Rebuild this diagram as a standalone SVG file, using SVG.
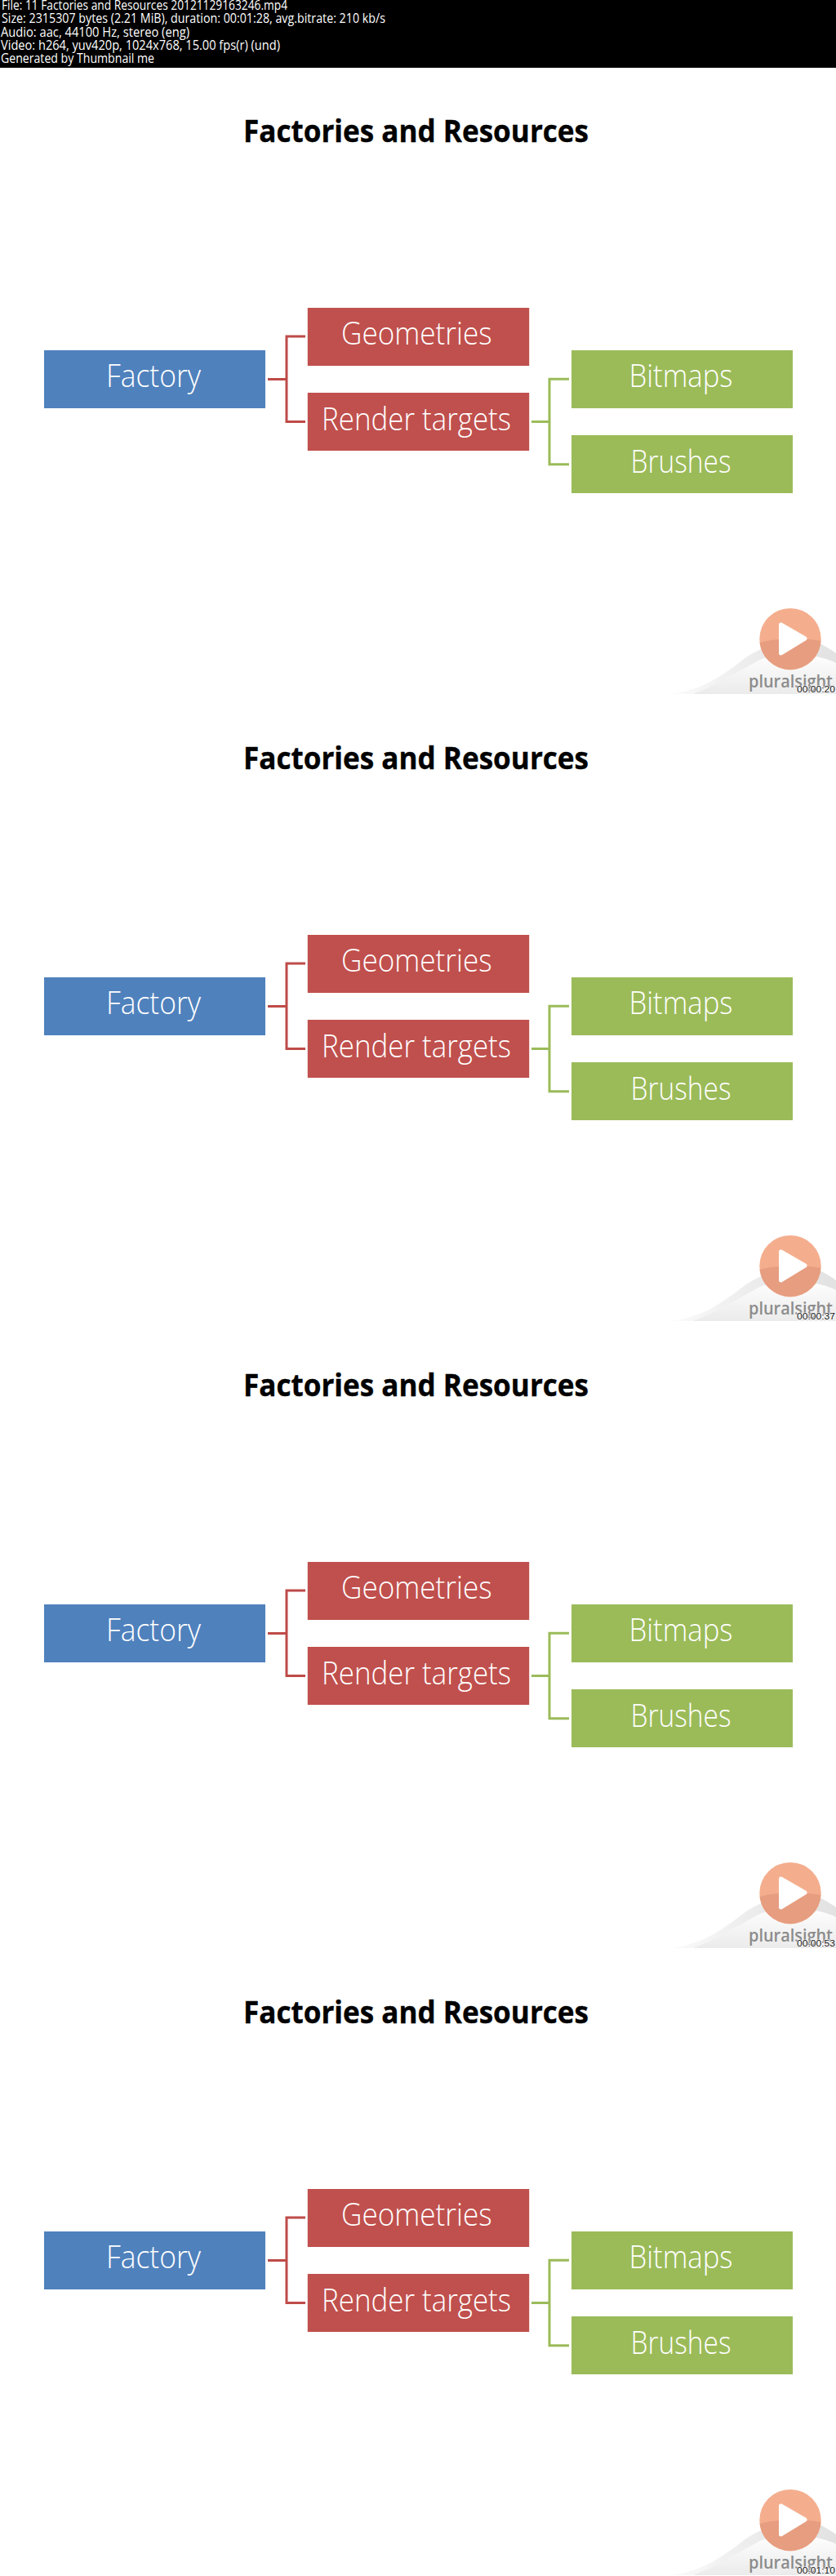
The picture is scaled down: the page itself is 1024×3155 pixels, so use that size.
<svg xmlns="http://www.w3.org/2000/svg" xmlns:xlink="http://www.w3.org/1999/xlink" width="1024" height="3155" viewBox="0 0 1024 3155">
<style>
.hd{font-family:"Open Sans","Liberation Sans",sans-serif;font-size:16px;fill:#fff}
.ti{font-family:"Open Sans","Liberation Sans",sans-serif;font-weight:700;font-size:38px;fill:#000;stroke:#000;stroke-width:.4px}
.lb{font-family:"Open Sans","Liberation Sans",sans-serif;font-weight:300;font-size:38px;fill:#fff}
.bl{fill:#4f81bd}.rd{fill:#c0504d}.gr{fill:#9bbb59}
.cr,.cg{fill:none;stroke-width:3}
.cr{stroke:#be4b48}.cg{stroke:#9bbb59}
.ps{font-family:"Open Sans","Liberation Sans",sans-serif;font-weight:600;font-size:22px;fill:#8c8c8c}
.ts{font-family:"Liberation Sans",sans-serif;font-size:11px;fill:#111;stroke:#fff;stroke-width:1.2px;paint-order:stroke}
</style>
<defs>
<linearGradient id="sw" x1="0" y1="0" x2="1" y2="0"><stop offset="0" stop-color="#fbfbfb"/><stop offset=".5" stop-color="#ececec"/><stop offset="1" stop-color="#e2e2e2"/></linearGradient>
<linearGradient id="sb" x1="0" y1="0" x2="0" y2="1"><stop offset="0" stop-color="#fefefe"/><stop offset="1" stop-color="#ebebeb"/></linearGradient>
<g id="connectors">
<path class="cr" d="M328 381.5H351M374 329H351V433.5H374"/>
<path class="cg" d="M651 433.5H673M697 381.3H673V485.7H697"/>
</g>
<g id="logoback">
<path fill="url(#sw)" d="M821 767C860 762 880 748 914 722C945 702 985 695 1004 705C1012 709 1018 713 1024 717V767Z"/>
<path fill="url(#sb)" d="M851 766C875 758 895 744 931 725C950 717 985 717 1004 722C1012 724 1018 726 1024 729V767H851Z"/>
</g>
<g id="logofront">
<circle cx="968" cy="699.7" r="37.7" fill="#f4ae8e"/>
<path fill="#e69d80" d="M930.5 704C950 698 985 698 1005.5 702A37.7 37.7 0 0 1 930.5 704Z"/>
<path fill="#fff" stroke="#fff" stroke-width="5" stroke-linejoin="round" d="M956.5 682V717L986 699Z"/>
</g>
</defs>
<rect width="1024" height="3155" fill="#fff"/>
<g id="header">
<rect width="1024" height="83" fill="#000"/>
<text class="hd" x="2" y="12" textLength="350" lengthAdjust="spacingAndGlyphs">File: 11 Factories and Resources 20121129163246.mp4</text>
<text class="hd" x="2" y="28" textLength="470" lengthAdjust="spacingAndGlyphs">Size: 2315307 bytes (2.21 MiB), duration: 00:01:28, avg.bitrate: 210 kb/s</text>
<text class="hd" x="1" y="44.5" textLength="231" lengthAdjust="spacingAndGlyphs">Audio: aac, 44100 Hz, stereo (eng)</text>
<text class="hd" x="1" y="61" textLength="342" lengthAdjust="spacingAndGlyphs">Video: h264, yuv420p, 1024x768, 15.00 fps(r) (und)</text>
<text class="hd" x="1" y="77" textLength="188" lengthAdjust="spacingAndGlyphs">Generated by Thumbnail me</text>
</g>

<g id="frame1" transform="translate(0 83)">
<text id="f1-title" class="ti" x="298" y="91" textLength="423" lengthAdjust="spacingAndGlyphs">Factories and Resources</text>
<use id="f1-connectors" href="#connectors" xlink:href="#connectors"/>
<g id="f1-factory"><rect class="bl" x="54" y="346" width="271" height="71"/><text class="lb" x="130" y="391" textLength="116" lengthAdjust="spacingAndGlyphs">Factory</text></g>
<g id="f1-geometries"><rect class="rd" x="376.8" y="294" width="271.4" height="71"/><text class="lb" x="418" y="339" textLength="184.6" lengthAdjust="spacingAndGlyphs">Geometries</text></g>
<g id="f1-render"><rect class="rd" x="376.8" y="398" width="271.4" height="71"/><text class="lb" x="394" y="444" textLength="232" lengthAdjust="spacingAndGlyphs">Render targets</text></g>
<g id="f1-bitmaps"><rect class="gr" x="700" y="346" width="271" height="71"/><text class="lb" x="770.5" y="391" textLength="127" lengthAdjust="spacingAndGlyphs">Bitmaps</text></g>
<g id="f1-brushes"><rect class="gr" x="700" y="450" width="271" height="71"/><text class="lb" x="772.5" y="496" textLength="123" lengthAdjust="spacingAndGlyphs">Brushes</text></g>
<g id="f1-logo"><use href="#logoback" xlink:href="#logoback"/><text class="ps" x="917" y="758.7" textLength="103" lengthAdjust="spacingAndGlyphs">pluralsight</text><use href="#logofront" xlink:href="#logofront"/><text class="ts" x="976" y="765" textLength="47" lengthAdjust="spacingAndGlyphs">00:00:20</text></g>
</g>

<g id="frame2" transform="translate(0 851)">
<text id="f2-title" class="ti" x="298" y="91" textLength="423" lengthAdjust="spacingAndGlyphs">Factories and Resources</text>
<use id="f2-connectors" href="#connectors" xlink:href="#connectors"/>
<g id="f2-factory"><rect class="bl" x="54" y="346" width="271" height="71"/><text class="lb" x="130" y="391" textLength="116" lengthAdjust="spacingAndGlyphs">Factory</text></g>
<g id="f2-geometries"><rect class="rd" x="376.8" y="294" width="271.4" height="71"/><text class="lb" x="418" y="339" textLength="184.6" lengthAdjust="spacingAndGlyphs">Geometries</text></g>
<g id="f2-render"><rect class="rd" x="376.8" y="398" width="271.4" height="71"/><text class="lb" x="394" y="444" textLength="232" lengthAdjust="spacingAndGlyphs">Render targets</text></g>
<g id="f2-bitmaps"><rect class="gr" x="700" y="346" width="271" height="71"/><text class="lb" x="770.5" y="391" textLength="127" lengthAdjust="spacingAndGlyphs">Bitmaps</text></g>
<g id="f2-brushes"><rect class="gr" x="700" y="450" width="271" height="71"/><text class="lb" x="772.5" y="496" textLength="123" lengthAdjust="spacingAndGlyphs">Brushes</text></g>
<g id="f2-logo"><use href="#logoback" xlink:href="#logoback"/><text class="ps" x="917" y="758.7" textLength="103" lengthAdjust="spacingAndGlyphs">pluralsight</text><use href="#logofront" xlink:href="#logofront"/><text class="ts" x="976" y="765" textLength="47" lengthAdjust="spacingAndGlyphs">00:00:37</text></g>
</g>

<g id="frame3" transform="translate(0 1619)">
<text id="f3-title" class="ti" x="298" y="91" textLength="423" lengthAdjust="spacingAndGlyphs">Factories and Resources</text>
<use id="f3-connectors" href="#connectors" xlink:href="#connectors"/>
<g id="f3-factory"><rect class="bl" x="54" y="346" width="271" height="71"/><text class="lb" x="130" y="391" textLength="116" lengthAdjust="spacingAndGlyphs">Factory</text></g>
<g id="f3-geometries"><rect class="rd" x="376.8" y="294" width="271.4" height="71"/><text class="lb" x="418" y="339" textLength="184.6" lengthAdjust="spacingAndGlyphs">Geometries</text></g>
<g id="f3-render"><rect class="rd" x="376.8" y="398" width="271.4" height="71"/><text class="lb" x="394" y="444" textLength="232" lengthAdjust="spacingAndGlyphs">Render targets</text></g>
<g id="f3-bitmaps"><rect class="gr" x="700" y="346" width="271" height="71"/><text class="lb" x="770.5" y="391" textLength="127" lengthAdjust="spacingAndGlyphs">Bitmaps</text></g>
<g id="f3-brushes"><rect class="gr" x="700" y="450" width="271" height="71"/><text class="lb" x="772.5" y="496" textLength="123" lengthAdjust="spacingAndGlyphs">Brushes</text></g>
<g id="f3-logo"><use href="#logoback" xlink:href="#logoback"/><text class="ps" x="917" y="758.7" textLength="103" lengthAdjust="spacingAndGlyphs">pluralsight</text><use href="#logofront" xlink:href="#logofront"/><text class="ts" x="976" y="765" textLength="47" lengthAdjust="spacingAndGlyphs">00:00:53</text></g>
</g>

<g id="frame4" transform="translate(0 2387)">
<text id="f4-title" class="ti" x="298" y="91" textLength="423" lengthAdjust="spacingAndGlyphs">Factories and Resources</text>
<use id="f4-connectors" href="#connectors" xlink:href="#connectors"/>
<g id="f4-factory"><rect class="bl" x="54" y="346" width="271" height="71"/><text class="lb" x="130" y="391" textLength="116" lengthAdjust="spacingAndGlyphs">Factory</text></g>
<g id="f4-geometries"><rect class="rd" x="376.8" y="294" width="271.4" height="71"/><text class="lb" x="418" y="339" textLength="184.6" lengthAdjust="spacingAndGlyphs">Geometries</text></g>
<g id="f4-render"><rect class="rd" x="376.8" y="398" width="271.4" height="71"/><text class="lb" x="394" y="444" textLength="232" lengthAdjust="spacingAndGlyphs">Render targets</text></g>
<g id="f4-bitmaps"><rect class="gr" x="700" y="346" width="271" height="71"/><text class="lb" x="770.5" y="391" textLength="127" lengthAdjust="spacingAndGlyphs">Bitmaps</text></g>
<g id="f4-brushes"><rect class="gr" x="700" y="450" width="271" height="71"/><text class="lb" x="772.5" y="496" textLength="123" lengthAdjust="spacingAndGlyphs">Brushes</text></g>
<g id="f4-logo"><use href="#logoback" xlink:href="#logoback"/><text class="ps" x="917" y="758.7" textLength="103" lengthAdjust="spacingAndGlyphs">pluralsight</text><use href="#logofront" xlink:href="#logofront"/><text class="ts" x="976" y="765" textLength="47" lengthAdjust="spacingAndGlyphs">00:01:10</text></g>
</g>
</svg>
